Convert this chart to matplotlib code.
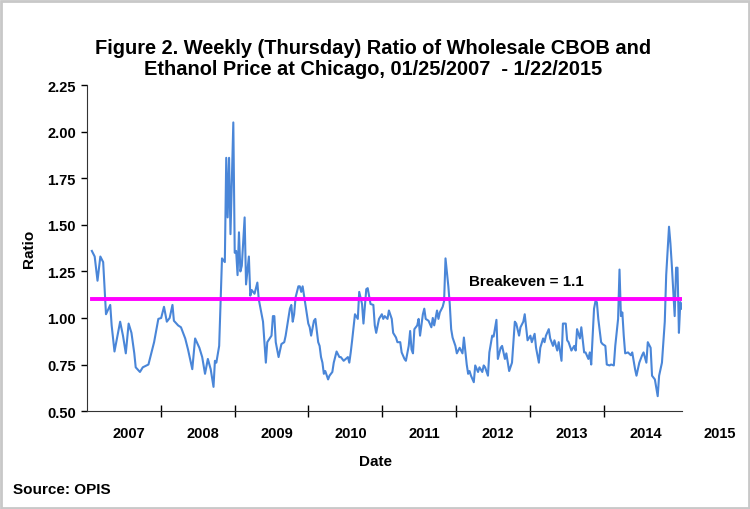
import numpy as np
import pandas as pd
import matplotlib
matplotlib.use("Agg")
import matplotlib.pyplot as plt
from matplotlib.patches import Rectangle

plt.rcParams['font.family'] = ['Liberation Sans', 'DejaVu Sans']
plt.rcParams['font.weight'] = 'bold'

# weeks since 01/25/2007 and the CBOB / ethanol price ratio
weeks = [0, 2, 4, 6, 8, 10, 13, 14, 16, 20, 22, 24, 26, 28, 30, 31, 34, 36, 40, 42,
         44, 47, 49, 51, 53, 55, 57, 58, 61, 63, 66, 68, 71, 73, 76, 78, 80, 82, 84, 86,
         87, 88, 90, 91, 92, 94, 95, 96, 97, 98, 100, 101, 102, 103, 104, 105, 106, 108, 109, 111,
         112, 113, 115, 117, 118, 121, 123, 124, 127, 128, 129, 130, 132, 134, 136, 137, 140, 141, 142, 143,
         144, 146, 147, 148, 149, 151, 153, 154, 155, 157, 158, 160, 161, 162, 163, 164, 165, 167, 168, 170,
         171, 173, 175, 176, 178, 181, 182, 183, 184, 186, 188, 189, 191, 192, 194, 195, 197, 199, 200, 201,
         203, 205, 206, 207, 209, 210, 212, 213, 215, 216, 218, 219, 221, 222, 224, 225, 226, 227, 228, 230,
         231, 232, 234, 235, 236, 238, 240, 241, 242, 244, 245, 246, 248, 249, 250, 252, 253, 254, 255, 257,
         258, 260, 262, 263, 265, 266, 267, 268, 270, 271, 273, 274, 276, 277, 278, 280, 281, 283, 284, 286,
         287, 289, 290, 292, 293, 295, 297, 299, 300, 302, 303, 305, 306, 308, 310, 311, 313, 314, 316, 317,
         319, 320, 321, 323, 324, 326, 327, 329, 330, 332, 333, 335, 336, 337, 339, 341, 342, 343, 345, 346,
         348, 349, 351, 352, 353, 355, 356, 357, 358, 360, 361, 363, 364, 366, 367, 369, 370, 372, 373, 374,
         375, 376, 377, 379, 381, 382, 384, 385, 387, 389, 390, 392, 393, 395, 396, 398, 400, 401, 403, 405,
         406, 408, 409, 410, 412, 413, 414, 415, 416, 417]
ratio = [1.36, 1.33, 1.20, 1.33, 1.30, 1.02, 1.07, 0.96, 0.82, 0.98, 0.905, 0.81, 0.97, 0.92, 0.81, 0.735, 0.71, 0.735, 0.75, 0.81,
         0.87, 0.995, 1.00, 1.06, 0.98, 1.00, 1.07, 0.985, 0.96, 0.95, 0.89, 0.83, 0.725, 0.89, 0.84, 0.79, 0.70, 0.78, 0.725, 0.63,
         0.77, 0.76, 0.85, 1.09, 1.32, 1.30, 1.86, 1.54, 1.86, 1.45, 2.05, 1.35, 1.36, 1.23, 1.46, 1.25, 1.28, 1.54, 1.18, 1.33,
         1.12, 1.15, 1.13, 1.19, 1.10, 0.98, 0.76, 0.87, 0.905, 1.01, 1.01, 0.87, 0.79, 0.86, 0.87, 0.905, 1.05, 1.07, 0.98, 1.02,
         1.11, 1.17, 1.17, 1.14, 1.17, 1.07, 0.97, 0.95, 0.905, 0.985, 0.995, 0.87, 0.85, 0.79, 0.76, 0.70, 0.715, 0.67, 0.69, 0.71,
         0.76, 0.82, 0.79, 0.79, 0.77, 0.79, 0.76, 0.815, 0.88, 1.02, 0.995, 1.14, 1.075, 0.97, 1.155, 1.16, 1.075, 1.07, 0.96, 0.92,
         0.995, 1.02, 0.995, 1.01, 0.995, 1.04, 0.995, 0.92, 0.895, 0.87, 0.87, 0.815, 0.78, 0.77, 0.85, 0.93, 0.83, 0.81, 0.94, 0.96,
         0.995, 0.905, 1.02, 1.05, 0.995, 0.985, 0.95, 1.00, 0.96, 1.04, 0.995, 1.03, 1.06, 1.09, 1.32, 1.17, 1.075, 0.94, 0.895, 0.85,
         0.81, 0.84, 0.81, 0.895, 0.75, 0.70, 0.715, 0.69, 0.655, 0.745, 0.71, 0.735, 0.71, 0.745, 0.735, 0.69, 0.815, 0.905, 0.90, 0.99,
         0.78, 0.84, 0.85, 0.78, 0.81, 0.715, 0.76, 0.98, 0.97, 0.905, 0.95, 0.98, 1.02, 0.88, 0.905, 0.87, 0.915, 0.84, 0.76, 0.84,
         0.89, 0.87, 0.905, 0.94, 0.89, 0.85, 0.88, 0.825, 0.87, 0.77, 0.97, 0.97, 0.88, 0.87, 0.825, 0.85, 0.825, 0.94, 0.89, 0.95,
         0.815, 0.815, 0.78, 0.815, 0.75, 1.05, 1.09, 1.085, 0.995, 0.87, 0.86, 0.85, 0.75, 0.745, 0.75, 0.745, 0.85, 0.995, 1.26, 1.01,
         1.03, 0.905, 0.81, 0.815, 0.80, 0.815, 0.725, 0.69, 0.76, 0.80, 0.815, 0.76, 0.87, 0.84, 0.69, 0.67, 0.58, 0.69, 0.76, 0.98,
         1.23, 1.49, 1.40, 1.28, 1.01, 1.27, 1.27, 0.92, 1.085, 1.05]
years = list(range(2007, 2016))
breakeven = 1.1

dates = pd.Timestamp("2007-01-25") + pd.to_timedelta(np.array(weeks) * 7, unit="D")

fig = plt.figure(figsize=(7.5, 5.1), dpi=100)
ax = fig.add_axes([0.116, 0.192, 0.793, 0.639])

ax.plot(dates, ratio, color="#4A86D8", lw=1.5)
ax.plot([dates[0], dates[-1]], [breakeven, breakeven], color="#FF00FF", lw=2.8)
ax.text(pd.Timestamp("2012-03-05"), 1.20, "Breakeven = 1.1", fontsize=10.9,
        fontweight="bold", ha="left", va="center")

ax.set_ylim(0.5, 2.25)
ax.set_yticks(np.arange(0.5, 2.26, 0.25))
ax.set_yticklabels([f"{v:.2f}" for v in np.arange(0.5, 2.26, 0.25)])
ax.set_xlim(pd.Timestamp("2007-01-01"), pd.Timestamp("2015-01-22"))
ax.set_xticks([pd.Timestamp(f"{y}-01-01") for y in years[1:-1]])
ax.set_xticklabels([])
ax.tick_params(axis="y", direction="out", length=4, width=1, labelsize=10.5, pad=4)
ax.tick_params(axis="x", direction="inout", length=8, width=1)
for lab in ax.get_yticklabels():
    lab.set_fontweight("bold")

# year labels sit in the middle of each year, 2015 hangs past the axis end
for y in years:
    ax.text(pd.Timestamp(f"{y}-07-27"), -0.045, str(y), transform=ax.get_xaxis_transform(),
            ha="center", va="top", fontsize=10.5, fontweight="bold", clip_on=False)

for s in ["top", "right"]:
    ax.spines[s].set_visible(False)
for s in ["left", "bottom"]:
    ax.spines[s].set_color("#333333")

ax.set_ylabel("Ratio", fontsize=11, fontweight="bold", labelpad=8)
fig.text(0.5, 0.094, "Date", ha="center", va="center", fontsize=11, fontweight="bold")
fig.text(0.018, 0.039, "Source: OPIS", ha="left", va="center", fontsize=11, fontweight="bold")
fig.text(0.497, 0.885, "Figure 2. Weekly (Thursday) Ratio of Wholesale CBOB and\nEthanol Price at Chicago, 01/25/2007  - 1/22/2015",
         ha="center", va="center", fontsize=14.4, fontweight="bold", linespacing=1.12)

fig.patches.append(Rectangle((0.001, 0.001), 0.997, 0.996, transform=fig.transFigure,
                             fill=False, edgecolor="#C8C8C8", lw=2))

fig.savefig("out.png", dpi=100)
